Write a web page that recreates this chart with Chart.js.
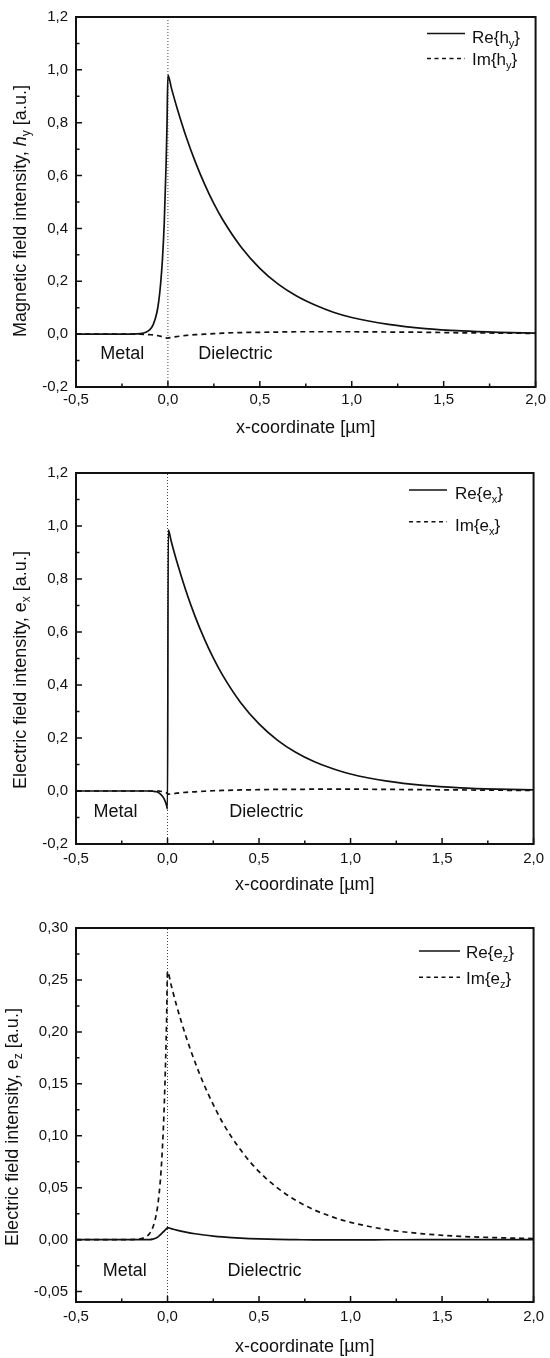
<!DOCTYPE html>
<html lang="en">
<head>
<meta charset="utf-8">
<title>Surface plasmon field profiles</title>
<script src="https://cdn.jsdelivr.net/npm/chart.js@4.4.1/dist/chart.umd.min.js"></script>
<style>
  html, body { margin: 0; padding: 0; background: #ffffff; }
  body { position: relative; width: 550px; height: 1358px; overflow: hidden; }
  canvas { position: absolute; left: 0; }
</style>
</head>
<body>
<canvas id="hy" width="550" height="453" style="top:0px"></canvas>
<canvas id="ex" width="550" height="453" style="top:453px"></canvas>
<canvas id="ez" width="550" height="452" style="top:906px"></canvas>
<script>
// ---- field profiles across the metal / dielectric interface (x in µm) ----
const xH = [-0.5, -0.4, -0.3, -0.2, -0.15, -0.12, -0.1, -0.08, -0.06, -0.05, -0.04, -0.03,
            -0.02, -0.01, -0.005, 0, 0.02, 0.05, 0.1, 0.15, 0.2, 0.25, 0.3, 0.4,
            0.5, 0.6, 0.7, 0.8, 0.9, 1.0, 1.2, 1.4, 1.6, 1.8, 2.0];
const reH = [0, 0, 0, 0.0003, 0.002, 0.007, 0.016, 0.036, 0.082, 0.124, 0.188, 0.28,
             0.42, 0.64, 0.79, 0.98, 0.928, 0.855, 0.745, 0.650, 0.567, 0.494, 0.431, 0.328,
             0.249, 0.189, 0.144, 0.110, 0.083, 0.063, 0.037, 0.021, 0.012, 0.007, 0.004];
const imH = [0, 0, 0, 0, 0, -0.001, -0.002, -0.003, -0.005, -0.006, -0.008, -0.010,
             -0.012, -0.014, -0.015, -0.015, -0.012, -0.009, -0.005, -0.002, 0, 0.002, 0.004, 0.006,
             0.007, 0.008, 0.009, 0.009, 0.009, 0.009, 0.008, 0.007, 0.005, 0.004, 0.003];

const xEx = [-0.5, -0.4, -0.3, -0.2, -0.15, -0.12, -0.1, -0.08, -0.06, -0.05, -0.04, -0.03,
             -0.02, -0.01, -0.005, 0, 0.004, 0.02, 0.05, 0.1, 0.15, 0.2, 0.25, 0.3,
             0.4, 0.5, 0.6, 0.7, 0.8, 0.9, 1.0, 1.2, 1.4, 1.6, 1.8, 2.0];
const reEx = [0, 0, 0, 0, 0, 0, 0, -0.001, -0.003, -0.006, -0.011, -0.018,
              -0.028, -0.044, -0.055, -0.068, 0.985, 0.943, 0.868, 0.757, 0.660, 0.576, 0.502, 0.438,
              0.333, 0.253, 0.192, 0.146, 0.111, 0.085, 0.064, 0.037, 0.021, 0.012, 0.007, 0.004];
const imEx = [0, 0, 0, 0, 0, 0, 0, 0, 0, 0, -0.001, -0.002,
              -0.003, -0.005, -0.007, -0.010, -0.012, -0.011, -0.008, -0.005, -0.003, -0.001, 0.001, 0.002,
              0.004, 0.005, 0.006, 0.006, 0.007, 0.007, 0.007, 0.006, 0.005, 0.004, 0.003, 0.002];

const xEz = [-0.5, -0.4, -0.3, -0.2, -0.15, -0.12, -0.1, -0.08, -0.06, -0.05, -0.04, -0.03,
             -0.02, -0.01, -0.005, 0, 0.02, 0.05, 0.1, 0.15, 0.2, 0.25, 0.3, 0.4,
             0.5, 0.6, 0.7, 0.8, 0.9, 1.0, 1.2, 1.4, 1.6, 1.8, 2.0];
const reEz = [0, 0, 0, 0, 0, 0, 0, 0.0005, 0.0018, 0.003, 0.0045, 0.0063,
              0.008, 0.0098, 0.0107, 0.0115, 0.0106, 0.0092, 0.0073, 0.0057, 0.0045, 0.0035, 0.0027, 0.0015,
              0.0007, 0.0002, 0, -0.0002, -0.0002, -0.0002, -0.0001, 0, 0, 0, 0];
const imEz = [0, 0, 0, 0.0001, 0.0008, 0.0025, 0.0055, 0.0119, 0.0256, 0.0377, 0.0553, 0.0812,
              0.119, 0.175, 0.212, 0.258, 0.245, 0.225, 0.196, 0.171, 0.149, 0.130, 0.113, 0.0862,
              0.0655, 0.0499, 0.0379, 0.0288, 0.0219, 0.0167, 0.0096, 0.0056, 0.0032, 0.0019, 0.0011];

// ---- tick values (major + minor) ----
const xTicks = [-0.5, -0.25, 0, 0.25, 0.5, 0.75, 1.0, 1.25, 1.5, 1.75, 2.0];
const yTicksField = [-0.2, -0.1, 0, 0.1, 0.2, 0.3, 0.4, 0.5, 0.6, 0.7, 0.8, 0.9, 1.0, 1.1, 1.2];
const yTicksEz = [-0.05, -0.025, 0, 0.025, 0.05, 0.075, 0.1, 0.125, 0.15, 0.175, 0.2, 0.225, 0.25, 0.275, 0.3];

const FONT = '"Liberation Sans", Arial, Helvetica, sans-serif';
const INK = '#111111';

function comma(v, d) { return v.toFixed(d).replace('.', ','); }
function isMultiple(v, step) {
  const r = v / step;
  return Math.abs(r - Math.round(r)) < 1e-6;
}
function pts(xs, ys) { return xs.map((x, i) => ({ x: x, y: ys[i] })); }

// draws a run of text pieces (for italics and subscripts) starting or centred at x
function drawRich(ctx, segs, x, y, align) {
  let total = 0;
  segs.forEach(s => { ctx.font = s.font; s.w = ctx.measureText(s.t).width; total += s.w; });
  let cx = align === 'center' ? x - total / 2 : x;
  segs.forEach(s => { ctx.font = s.font; ctx.fillText(s.t, cx, y + (s.dy || 0)); cx += s.w; });
}

function makeChart(cfg) {
  const decor = {
    id: 'decor',
    afterDatasetsDraw(chart) {
      const ctx = chart.ctx;
      const a = chart.chartArea;
      const xs = chart.scales.x, ys = chart.scales.y;
      ctx.save();

      // frame
      ctx.strokeStyle = INK;
      ctx.lineWidth = 2;
      ctx.setLineDash([]);
      ctx.strokeRect(a.left, a.top, a.right - a.left, a.bottom - a.top);

      // inward tick marks on the bottom and left axes
      ctx.lineWidth = 1.5;
      ctx.beginPath();
      xs.ticks.forEach(t => {
        const px = xs.getPixelForValue(t.value);
        const len = isMultiple(t.value, 0.5) ? 6 : 3.5;
        ctx.moveTo(px, a.bottom); ctx.lineTo(px, a.bottom - len);
      });
      ys.ticks.forEach(t => {
        const py = ys.getPixelForValue(t.value);
        const len = isMultiple(t.value, cfg.yMajorStep) ? 6 : 3.5;
        ctx.moveTo(a.left, py); ctx.lineTo(a.left + len, py);
      });
      ctx.stroke();

      ctx.fillStyle = INK;

      // region labels
      ctx.font = '18px ' + FONT;
      ctx.textAlign = 'center';
      ctx.textBaseline = 'middle';
      ctx.fillText('Metal', xs.getPixelForValue(cfg.metalAt[0]), ys.getPixelForValue(cfg.metalAt[1]));
      ctx.fillText('Dielectric', xs.getPixelForValue(cfg.dielAt[0]), ys.getPixelForValue(cfg.dielAt[1]));

      // x-axis title
      ctx.fillText('x-coordinate [µm]', (a.left + a.right) / 2, a.bottom + cfg.xTitleGap);

      // y-axis title (rotated)
      ctx.textBaseline = 'alphabetic';
      ctx.textAlign = 'left';
      ctx.save();
      ctx.translate(cfg.yTitleX, cfg.yTitleY);
      ctx.rotate(-Math.PI / 2);
      drawRich(ctx, [
        { t: cfg.yTitleHead, font: '18px ' + FONT },
        { t: cfg.sym, font: (cfg.symItalic ? 'italic ' : '') + '18px ' + FONT },
        { t: cfg.sub, font: '12px ' + FONT, dy: 4 },
        { t: ' [a.u.]', font: '18px ' + FONT }
      ], 0, 0, 'center');
      ctx.restore();

      // legend
      const L = cfg.legend;
      ctx.strokeStyle = INK;
      ctx.lineWidth = 1.5;
      ctx.setLineDash([]);
      ctx.beginPath(); ctx.moveTo(L.x0, L.line1); ctx.lineTo(L.x1, L.line1); ctx.stroke();
      ctx.setLineDash([4, 3.5]);
      ctx.beginPath(); ctx.moveTo(L.x0, L.line2); ctx.lineTo(L.x1, L.line2); ctx.stroke();
      ctx.setLineDash([]);
      const entry = (head) => [
        { t: head + '{' + cfg.sym, font: '17px ' + FONT },
        { t: cfg.sub, font: '11px ' + FONT, dy: 4 },
        { t: '}', font: '17px ' + FONT }
      ];
      drawRich(ctx, entry('Re'), L.tx, L.base1, 'left');
      drawRich(ctx, entry('Im'), L.tx, L.base2, 'left');

      ctx.restore();
    }
  };

  const lineStyle = { borderColor: INK, borderWidth: 1.7, pointRadius: 0, fill: false, cubicInterpolationMode: 'monotone' };

  return new Chart(document.getElementById(cfg.id), {
    type: 'line',
    data: {
      datasets: [
        Object.assign({ label: 'Re', data: pts(cfg.xs, cfg.re) }, lineStyle),
        Object.assign({ label: 'Im', data: pts(cfg.xs, cfg.im), borderDash: [5, 4] }, lineStyle),
        { label: 'interface', data: [{ x: 0, y: cfg.yMin }, { x: 0, y: cfg.yMax }],
          borderColor: '#444444', borderWidth: 1, borderDash: [1, 2], pointRadius: 0, fill: false }
      ]
    },
    options: {
      responsive: false,
      animation: false,
      devicePixelRatio: 1,
      events: [],
      layout: { padding: { top: cfg.padTop, right: cfg.padRight, left: 0, bottom: 0 } },
      plugins: { legend: { display: false }, tooltip: { enabled: false } },
      scales: {
        x: {
          type: 'linear', min: -0.5, max: 2.0,
          afterBuildTicks: s => { s.ticks = xTicks.map(v => ({ value: v })); },
          afterFit: s => { s.height = cfg.xAxisH; },
          grid: { display: false, drawTicks: false },
          border: { display: false },
          ticks: {
            autoSkip: false, maxRotation: 0, padding: cfg.xLabelPad, color: INK,
            font: { family: FONT, size: 15 },
            callback: v => isMultiple(v, 0.5) ? comma(v, 1) : ''
          }
        },
        y: {
          type: 'linear', min: cfg.yMin, max: cfg.yMax,
          afterBuildTicks: s => { s.ticks = cfg.yTicks.map(v => ({ value: v })); },
          afterFit: s => { s.width = 76; },
          grid: { display: false, drawTicks: false },
          border: { display: false },
          ticks: {
            autoSkip: false, padding: 8, color: INK,
            font: { family: FONT, size: 15 },
            callback: v => isMultiple(v, cfg.yMajorStep) ? comma(v, cfg.yDec) : ''
          }
        }
      }
    },
    plugins: [decor]
  });
}

makeChart({
  id: 'hy', xs: xH, re: reH, im: imH,
  yMin: -0.2, yMax: 1.2, yTicks: yTicksField, yMajorStep: 0.2, yDec: 1,
  padTop: 14, padRight: 13, xAxisH: 66, xLabelPad: 4, xTitleGap: 41,
  yTitleHead: 'Magnetic field intensity, ', sym: 'h', symItalic: true, sub: 'y',
  yTitleX: 26, yTitleY: 211,
  metalAt: [-0.248, -0.074], dielAt: [0.367, -0.074],
  legend: { x0: 427, x1: 465, tx: 472, line1: 33.5, base1: 42.5, line2: 58.5, base2: 64.5 }
});

makeChart({
  id: 'ex', xs: xEx, re: reEx, im: imEx,
  yMin: -0.2, yMax: 1.2, yTicks: yTicksField, yMajorStep: 0.2, yDec: 1,
  padTop: 20, padRight: 14.5, xAxisH: 62, xLabelPad: 6, xTitleGap: 41,
  yTitleHead: 'Electric field intensity, ', sym: 'e', symItalic: false, sub: 'x',
  yTitleX: 26, yTitleY: 217,
  metalAt: [-0.284, -0.080], dielAt: [0.539, -0.080],
  legend: { x0: 409, x1: 447, tx: 455, line1: 37, base1: 46.3, line2: 68.7, base2: 77.7 }
});

makeChart({
  id: 'ez', xs: xEz, re: reEz, im: imEz,
  yMin: -0.06, yMax: 0.30, yTicks: yTicksEz, yMajorStep: 0.05, yDec: 2,
  padTop: 22, padRight: 12.5, xAxisH: 56, xLabelPad: 6, xTitleGap: 45,
  yTitleHead: 'Electric field intensity, ', sym: 'e', symItalic: false, sub: 'z',
  yTitleX: 18, yTitleY: 221,
  metalAt: [-0.234, -0.0306], dielAt: [0.53, -0.0306],
  legend: { x0: 419, x1: 460, tx: 466, line1: 45, base1: 51.7, line2: 71.3, base2: 78.3 }
});
</script>
</body>
</html>
